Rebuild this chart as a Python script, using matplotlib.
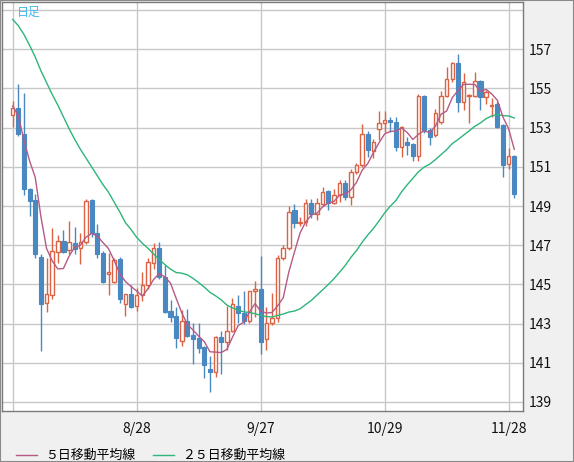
import matplotlib
matplotlib.use("Agg")
import matplotlib.pyplot as plt
from matplotlib.lines import Line2D
from matplotlib.patches import Rectangle
import numpy as np
import pandas as pd

plt.rcParams['font.family'] = ['Noto Sans CJK JP', 'DejaVu Sans']

# daily candles, 2024-07-29 .. 2024-11-29 (weekdays)
dates = pd.bdate_range('2024-07-29', '2024-11-29')

opens = [153.64, 153.98, 152.65, 149.85, 149.31, 146.40, 144.04, 144.44, 146.64, 147.20,
         146.74, 147.11, 146.84, 147.18, 149.30, 147.64, 146.59, 145.55, 145.11, 146.30,
         143.98, 144.49, 143.91, 144.44, 144.95, 146.07, 146.84, 145.39, 143.64, 143.39,
         142.11, 143.13, 142.42, 142.27, 141.81, 140.68, 140.55, 142.30, 142.08, 142.60,
         143.90, 143.56, 143.15, 144.65, 144.77, 142.20, 143.05, 143.30, 146.33, 146.84,
         148.80, 148.12, 148.20, 149.14, 148.57, 149.09, 149.77, 149.17, 149.56, 150.16,
         149.48, 150.72, 151.08, 152.67, 151.82, 152.91, 153.22, 153.39, 153.29, 151.99,
         152.27, 152.16, 151.57, 154.61, 152.88, 152.62, 153.30, 154.63, 155.46, 156.28,
         154.32, 154.63, 154.63, 155.39, 154.54, 154.12, 154.20, 153.13, 151.13, 151.55]
highs = [154.36, 155.22, 154.78, 149.90, 149.60, 146.54, 146.33, 147.89, 147.52, 147.76,
         148.23, 147.91, 147.60, 149.36, 149.35, 148.06, 146.70, 146.59, 146.33, 146.41,
         144.51, 144.97, 144.80, 145.62, 146.33, 147.13, 147.18, 146.00, 144.20, 143.86,
         143.69, 143.73, 143.01, 143.05, 141.85, 141.35, 142.35, 142.64, 143.91, 144.29,
         144.46, 144.68, 144.68, 145.17, 146.45, 143.86, 144.55, 146.50, 147.01, 149.00,
         149.09, 148.45, 149.34, 149.34, 149.40, 149.95, 149.80, 149.85, 150.33, 150.33,
         150.87, 151.21, 153.17, 152.84, 152.40, 153.85, 153.85, 153.53, 153.56, 153.08,
         152.50, 152.20, 154.71, 154.66, 153.00, 153.93, 154.88, 156.11, 156.36, 156.76,
         155.80, 154.72, 155.85, 155.42, 154.92, 154.49, 154.32, 153.20, 151.94, 151.60]
lows = [153.05, 152.57, 149.56, 148.50, 146.36, 141.62, 143.60, 144.26, 146.10, 146.60,
        146.54, 146.57, 146.05, 147.04, 147.43, 146.36, 145.05, 144.44, 145.06, 144.03,
        143.40, 143.81, 143.64, 144.15, 144.78, 145.79, 145.28, 143.56, 143.10, 141.74,
        141.86, 142.33, 140.92, 141.48, 140.24, 139.53, 140.29, 140.43, 141.65, 142.55,
        143.01, 142.98, 143.01, 143.35, 141.43, 141.65, 142.93, 143.10, 146.24, 146.76,
        147.86, 147.98, 148.00, 148.37, 148.30, 149.00, 148.80, 149.10, 149.22, 149.31,
        149.05, 150.65, 151.00, 151.52, 151.43, 152.37, 152.79, 152.79, 151.82, 151.48,
        151.60, 151.31, 151.31, 152.71, 152.11, 152.50, 153.20, 154.58, 155.34, 153.81,
        153.90, 153.25, 154.55, 153.88, 154.20, 153.56, 152.96, 150.46, 150.87, 149.42]
closes = [153.98, 152.65, 149.85, 149.27, 146.54, 144.02, 144.51, 146.68, 147.20, 146.64,
          147.16, 146.80, 147.18, 149.26, 147.60, 146.54, 145.11, 145.62, 146.23, 144.27,
          144.49, 143.86, 144.46, 144.95, 146.14, 146.84, 145.39, 143.60, 143.35, 142.28,
          143.13, 142.38, 142.21, 141.77, 140.90, 140.55, 142.30, 142.08, 142.60, 144.00,
          143.52, 143.15, 144.66, 144.77, 142.06, 143.05, 143.30, 146.33, 146.84, 148.68,
          148.12, 148.20, 149.14, 148.57, 149.14, 149.73, 149.17, 149.56, 150.16, 149.48,
          150.72, 151.09, 152.67, 151.86, 152.28, 153.22, 153.37, 153.30, 151.99, 153.01,
          152.10, 151.57, 154.63, 152.88, 152.54, 153.73, 154.63, 155.46, 156.28, 154.32,
          155.34, 154.66, 155.39, 154.54, 154.83, 154.17, 153.05, 151.09, 151.55, 149.61]

# moving average values before enough closes exist
ma5_head = [154.10, 153.60, 152.35, 151.30]
ma25_head = [158.52, 158.20, 157.75, 157.20, 156.60, 155.90, 155.30, 154.70, 154.15, 153.55,
             152.95, 152.40, 151.90, 151.45, 151.00, 150.55, 150.10, 149.70, 149.20, 148.70,
             148.15, 147.80, 147.40, 147.10]

yticks = list(range(139, 160, 2))

df = pd.DataFrame({'open': opens, 'high': highs, 'low': lows, 'close': closes}, index=dates)
ma5 = df['close'].rolling(5).mean().to_numpy()
ma5[:4] = ma5_head
ma25 = df['close'].rolling(25).mean().to_numpy()
ma25[:24] = ma25_head

UP = '#dd6244'
DOWN = '#4a88c2'
MA5_C = '#b65a86'
MA25_C = '#2db57a'

fig = plt.figure(figsize=(5.74, 4.62), dpi=100)
fig.patch.set_facecolor('#f0f0f0')
ax = fig.add_axes([2 / 574, 1 - 411 / 462, 521 / 574, 409 / 462])
ax.set_facecolor('white')

x = np.arange(len(df))
o = df['open'].to_numpy()
c = df['close'].to_numpy()
up = c >= o
col = np.where(up, UP, DOWN)

ax.vlines(x, df['low'], df['high'], colors=col, lw=1, zorder=2)
bottom = np.minimum(o, c)
height = np.maximum(np.abs(c - o), 0.03)
ax.bar(x[up], height[up], bottom=bottom[up], width=0.62, facecolor='white',
       edgecolor=UP, lw=1, zorder=3)
ax.bar(x[~up], height[~up], bottom=bottom[~up], width=0.74, facecolor=DOWN,
       edgecolor=DOWN, lw=0.8, zorder=3)

ax.plot(x, ma25, color=MA25_C, lw=1, zorder=4)
ax.plot(x, ma5, color=MA5_C, lw=1, zorder=5)

ax.set_xlim(-1.9, 90.55)
ax.set_ylim(138.54, 159.41)

xt = list(range(0, len(df), 22))
ax.set_xticks(xt)
ax.set_xticklabels([''] + [f'{d.month}/{d.day}' for d in dates[xt[1:]]])
ax.yaxis.tick_right()
ax.set_yticks(yticks)
ax.set_yticklabels([str(v) for v in yticks[:-1]] + [''])
ax.tick_params(length=0, labelsize=10, colors='#111111')
ax.tick_params(axis='x', pad=8)
ax.tick_params(axis='y', pad=4)
ax.grid(color='#c8c8c8', lw=1, zorder=0)
ax.set_axisbelow(True)
for s in ax.spines.values():
    s.set_color('#7a7a7a')
    s.set_linewidth(1)

ax.text(15 / 521, 1 - 10 / 409, '日足', transform=ax.transAxes, color='#3fb6ea',
        fontsize=8.6, va='center', ha='left')

# legend along the bottom
ly = 1 - 455 / 462
fig.add_artist(Line2D([16 / 574, 37 / 574], [ly, ly], color=MA5_C, lw=1))
fig.text(45 / 574, ly, '５日移動平均線', fontsize=9.3, va='center', ha='left')
fig.add_artist(Line2D([153 / 574, 174 / 574], [ly, ly], color=MA25_C, lw=1))
fig.text(182 / 574, ly, '２５日移動平均線', fontsize=9.3, va='center', ha='left')

fig.patches.append(Rectangle((0, 0), 1, 1, transform=fig.transFigure, fill=False,
                             edgecolor='#8a8a8a', lw=1.5))

fig.savefig('out.png', dpi=100, facecolor=fig.get_facecolor())
